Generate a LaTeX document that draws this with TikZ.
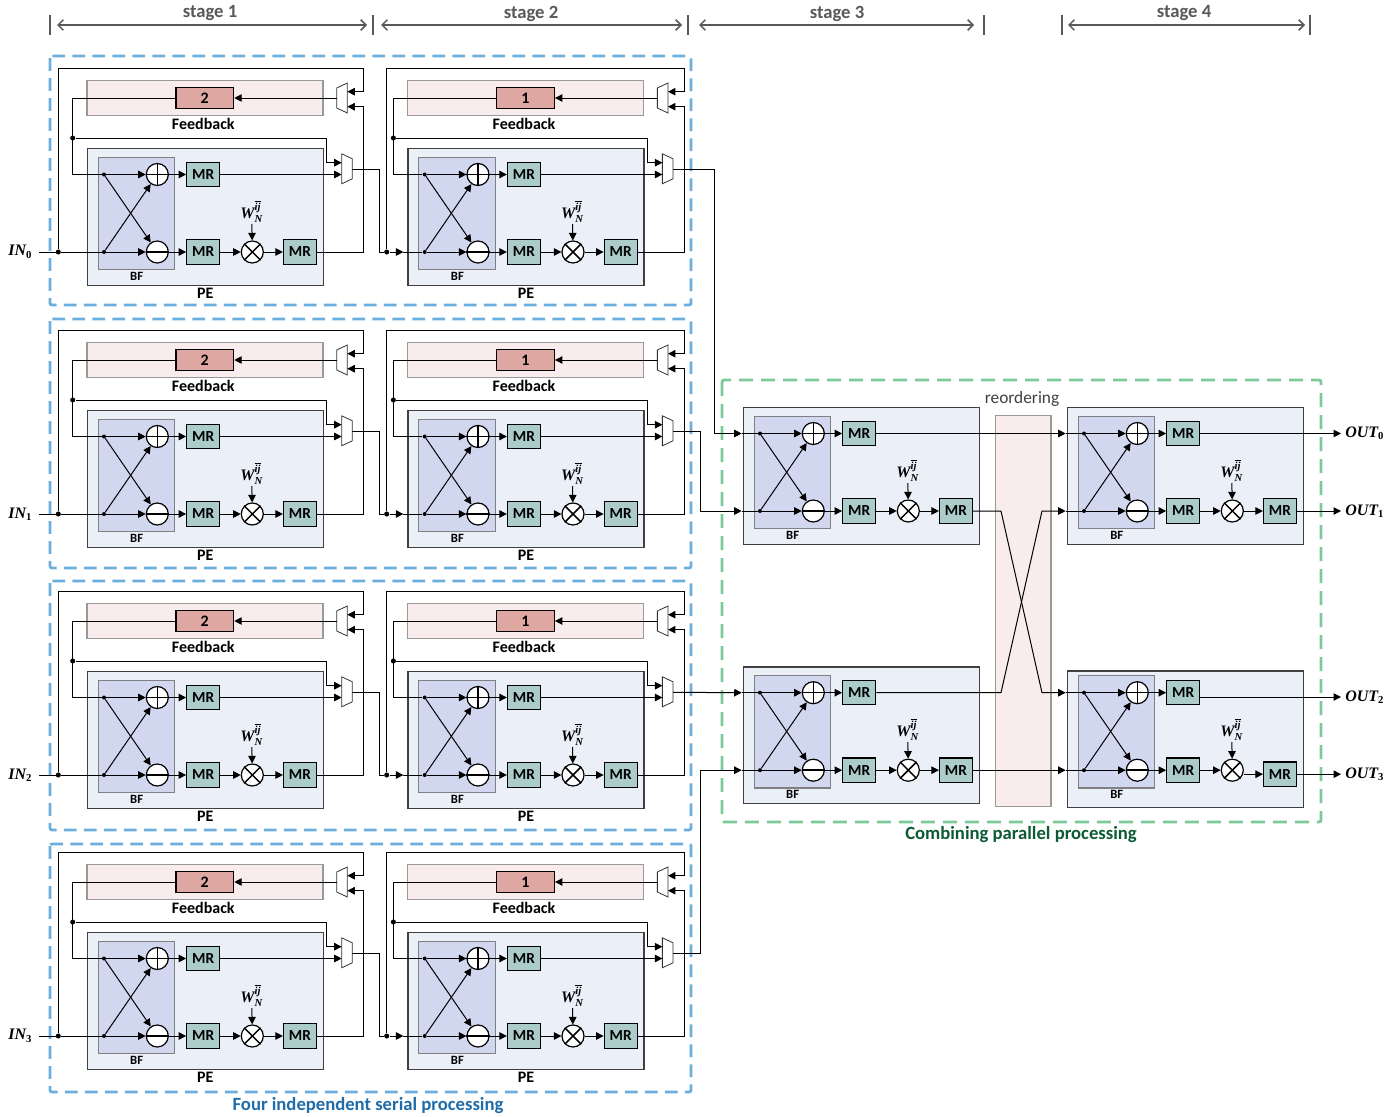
\documentclass[tikz,border=0pt]{standalone}
\usepackage{amsmath}
\usepackage{fontspec}
\setmainfont{Carlito}
\newfontfamily\timesfont{Liberation Serif}
\usetikzlibrary{arrows.meta}

\definecolor{peblue}{HTML}{EBF0F8}
\definecolor{bfblue}{HTML}{D2D7F0}
\definecolor{mrgreen}{HTML}{ABCCC9}
\definecolor{fbpink}{HTML}{F8ECEC}
\definecolor{regred}{HTML}{DFA7A2}
\definecolor{dashblue}{HTML}{6CAEDE}
\definecolor{dashgreen}{HTML}{7CC99A}
\definecolor{textblue}{HTML}{1F6CA8}
\definecolor{textgreen}{HTML}{0B5A33}
\definecolor{stagegray}{HTML}{595959}

\tikzset{
  wire/.style={line width=.75pt},
  arr/.style={wire,-{Triangle[length=5.6pt,width=5.6pt]}},
  pebox/.style={draw=black!75,line width=1pt,fill=peblue,inner sep=0,anchor=north west,
    minimum width=177pt,minimum height=102.6pt},
  bfbox/.style={draw=black!50,line width=.8pt,fill=bfblue,inner sep=0,anchor=north west,
    minimum width=57.4pt,minimum height=84.2pt},
  fbbox/.style={draw=black!40,line width=.9pt,fill=fbpink,inner sep=0,
    minimum width=177pt,minimum height=26.8pt},
  regbox/.style={draw=black,line width=1pt,fill=regred,inner sep=0,font=\bfseries\fontsize{12}{12}\selectfont,
    minimum width=43.2pt,minimum height=15.5pt},
  mrbox/.style={draw=black,line width=.9pt,fill=mrgreen,inner sep=0,font=\bfseries\fontsize{11.5}{12}\selectfont,
    minimum width=24.7pt,minimum height=18.2pt},
  opnode/.style={circle,draw=black,line width=.9pt,fill=white,inner sep=0,minimum size=16.5pt},
  opline/.style={line width=1.1pt},
  dotnode/.style={circle,fill=black,inner sep=0,minimum size=3pt},
  bigdot/.style={circle,fill=black,inner sep=0,minimum size=3.8pt},
  muxspot/.style={rectangle,inner sep=0,outer sep=0,minimum width=8pt,minimum height=22.5pt},
  muxline/.style={draw=black!80,line width=.6pt,fill=white},
  smalllab/.style={font=\bfseries\fontsize{9.5}{10}\selectfont,inner sep=0},
  lab/.style={font=\bfseries\fontsize{12}{12}\selectfont,inner sep=0},
  iolab/.style={font=\timesfont\bfseries\itshape\fontsize{12}{12}\selectfont},
  stagelab/.style={font=\bfseries\fontsize{14}{14}\selectfont,text=stagegray,inner sep=0},
  stagebar/.style={draw=stagegray,line width=1.2pt},
  stagearr/.style={draw=stagegray,line width=1.1pt,{Straight Barb[length=4pt,width=8pt]}-{Straight Barb[length=4pt,width=8pt]}},
  bluedash/.style={draw=dashblue,line width=2.1pt,rounded corners=1.5pt,dash pattern=on 9.6pt off 5.4pt},
  greendash/.style={draw=dashgreen,line width=2.1pt,rounded corners=1.5pt,dash pattern=on 10.5pt off 6pt},
}

\newcommand{\twiddle}{\timesfont\bfseries\itshape\fontsize{12}{12}\selectfont
  $\text{W}_{\text{N}}^{\overline{\text{ij}}}$}

% PE: #1 shift of box and last MR, #2 name, #3 x, #4 y
\newcommand{\pecell}[4][0]{
  \begin{scope}[shift={(#3,#4)}]
    \node[pebox] (pe#2) at (0,#1) {};
    \node[bfbox] (bf#2) at (11,9) {};
    \node[smalllab] (bflab#2) at (50,128.3) {BF};
    \node[opnode] (add#2) at (70.6,26.5) {};
    \node[opnode] (sub#2) at (70.6,104) {};
    \node[mrbox] (mra#2) at (116.5,26.5) {MR};
    \node[mrbox] (mrb#2) at (116.5,104) {MR};
    \node[opnode] (mul#2) at (165.6,104) {};
    \node[mrbox] (mrc#2) at (213.3,104+#1) {MR};
    \node[inner sep=1pt,anchor=south] (w#2) at (165,76) {\twiddle};
    \node[dotnode] (dota#2) at (17.3,26.5) {};
    \node[dotnode] (dotb#2) at (17.3,104) {};
    \coordinate (ina#2) at (-1,26.5);
    \coordinate (inb#2) at (-1,104);
    \draw[wire] (ina#2) -- (dota#2);
    \draw[wire] (inb#2) -- (dotb#2);
    \draw[arr] (dota#2) -- (add#2);
    \draw[arr] (dota#2) -- (sub#2);
    \draw[arr] (dotb#2) -- (add#2);
    \draw[arr] (dotb#2) -- (sub#2);
    \draw[arr] (add#2) -- (mra#2);
    \draw[arr] (sub#2) -- (mrb#2);
    \draw[arr] (mrb#2) -- (mul#2);
    \draw[arr] (mul#2.east |- mrc#2.west) -- (mrc#2.west);
    \draw[arr] (w#2) -- (mul#2);
    \draw[opline] (add#2.north) -- (add#2.south);
    \draw[opline] (add#2.west) -- (add#2.east);
    \draw[opline] (sub#2.west) -- (sub#2.east);
    \draw[opline] (mul#2.north west) -- (mul#2.south east);
    \draw[opline] (mul#2.north east) -- (mul#2.south west);
  \end{scope}
}

% feedback part: #1 name, #2 x, #3 y, #4 delay, #5 x of the loop
\newcommand{\serialcell}[5]{
  \pecell{#1}{#2}{#3}
  \begin{scope}[shift={(#2,#3)}]
    \node[lab] (pelab#1) at (118.6,145.3) {PE};
    \node[fbbox] (fb#1) at (118.3,-50) {};
    \node[lab] (fblab#1) at (116.6,-24) {Feedback};
    \node[regbox] (reg#1) at (118.1,-50) {#4};
    \node[muxspot] (mt#1) at (255.3,-50) {};
    \node[muxspot] (mb#1) at (260.3,20.8) {};
    \draw[muxline] (mt#1.north east) -- (mt#1.south east)
      -- ([yshift=3.75pt]mt#1.south west) -- ([yshift=-3.75pt]mt#1.north west) -- cycle;
    \draw[muxline] (mb#1.north west) -- (mb#1.south west)
      -- ([yshift=3.75pt]mb#1.south east) -- ([yshift=-3.75pt]mb#1.north east) -- cycle;
    \node[bigdot] (loop#1) at (#5,104) {};
    \node[bigdot] (fbdot#1) at (-14,-10) {};
    \coordinate (tip#1) at (-4,104);
    \coordinate (rt#1) at (277,-79.7);
    \coordinate (fa#1) at (260.6,-56.3);
    \coordinate (fc#1) at (260.6,-41.3);
    \coordinate (mto#1) at (250,-50);
    \coordinate (fx#1) at (-14,26.5);
    \coordinate (cx#1) at (240,14.7);
    \coordinate (ma#1) at (255,14.7);
    \coordinate (mc#1) at (255,26.5);
    \coordinate (mo#1) at (265.6,21.3);
    \coordinate (cor#1) at (292.3,21.3);
    \draw[arr] (loop#1) |- (rt#1) |- (fa#1);
    \draw[arr] (mrc#1) -- (mrc#1 -| rt#1) |- (fc#1);
    \draw[arr] (mto#1) -- (reg#1);
    \draw[wire] (reg#1) -| (fx#1) -- (ina#1);
    \draw[arr] (fbdot#1) -| (cx#1) -- (ma#1);
    \draw[arr] (mra#1) -- (mc#1);
  \end{scope}
}

\begin{document}
\begin{tikzpicture}[x=.75pt,y=-.75pt]
  \useasboundingbox (0,0) rectangle (1390,1117);

  % stage marks
  \foreach \x in {50,373,688,984,1062,1310}
    \draw[stagebar] (\x,15) -- (\x,35);
  \foreach \n/\a/\b/\c in {1/57/367/210,2/381/682/531,3/699/974/837,4/1068/1305/1184}{
    \coordinate (sa\n) at (\a,25);
    \coordinate (sb\n) at (\b,25);
    \draw[stagearr] (sa\n) -- (sb\n);
    \node[stagelab] (stage\n) at (\c,13.5) {stage \n};
  }

  % frames
  \foreach \a/\b in {56/305,319/568,581/830,844/1092}
    \draw[bluedash] (50,\a) rectangle (691,\b);
  \draw[greendash] (722,380) rectangle (1321,822);
  \node[font=\bfseries\fontsize{14}{14}\selectfont,text=textblue,inner sep=0] (serlab) at (368,1105.5) {Four independent serial processing};
  \node[font=\bfseries\fontsize{14}{14}\selectfont,text=textgreen,inner sep=0] (parlab) at (1021,835) {Combining parallel processing};

  % reordering
  \node[fbbox,anchor=north west,minimum width=41.5pt,minimum height=293pt] (reorder) at (995,415) {};
  \node[font=\fontsize{13}{13}\selectfont,text=black!75,inner sep=0] (reolab) at (1022,398.5) {reordering};

  % four serial rows
  \foreach \r/\y in {0/148,1/410,2/671,3/932}{
    \serialcell{a\r}{86.7}{\y}{2}{-28.4}
    \serialcell{b\r}{407.4}{\y}{1}{-20.7}
    \node[iolab,anchor=east,inner sep=5pt] (in\r) at (39,\y+104) {IN$_{\text{\upshape\r}}$};
    \draw[wire] (in\r) -- (loopa\r) -- (inba\r);
    \draw[wire] (moa\r) -- (cora\r) |- (loopb\r);
    \draw[arr] (loopb\r) -- (tipb\r);
    \draw[wire] (tipb\r) -- (inbb\r);
  }

  % parallel part
  \pecell{cu}{742.7}{407}
  \pecell{cl}{742.7}{666.2}
  \pecell{du}{1066.7}{407}
  \pecell[4]{dl}{1066.7}{666.2}

  \coordinate (joga) at (714.7,0);
  \coordinate (jogb) at (700,0);
  \coordinate (crossa) at (1001,0);
  \coordinate (crossb) at (1042,0);
  \draw[arr] (mob0) -| (joga |- inacu) -- (inacu);
  \draw[arr] (mob1) -| (jogb |- inbcu) -- (inbcu);
  \draw[arr] (mob2) -- (inacl);
  \draw[arr] (mob3) -| (jogb |- inbcl) -- (inbcl);

  \draw[arr] (mracu) -- (inadu);
  \draw[arr] (mrccu) -- (crossa |- mrccu) -- (crossb |- inadl) -- (inadl);
  \draw[arr] (mracl) -- (crossa |- mracl) -- (crossb |- inbdu) -- (inbdu);
  \draw[arr] (mrccl) -- (inbdl);

  \foreach \n/\y in {0/433.5,1/511,2/697,3/774.2}
    \node[iolab,anchor=west,inner sep=3pt] (out\n) at (1341,\y) {OUT$_{\text{\upshape\n}}$};
  \draw[arr] (mradu) -- (out0.west);
  \draw[arr] (mrcdu) -- (out1.west);
  \draw[arr] (mradl.east |- out2.west) -- (out2.west);
  \draw[arr] (mrcdl) -- (out3.west);
\end{tikzpicture}
\end{document}
